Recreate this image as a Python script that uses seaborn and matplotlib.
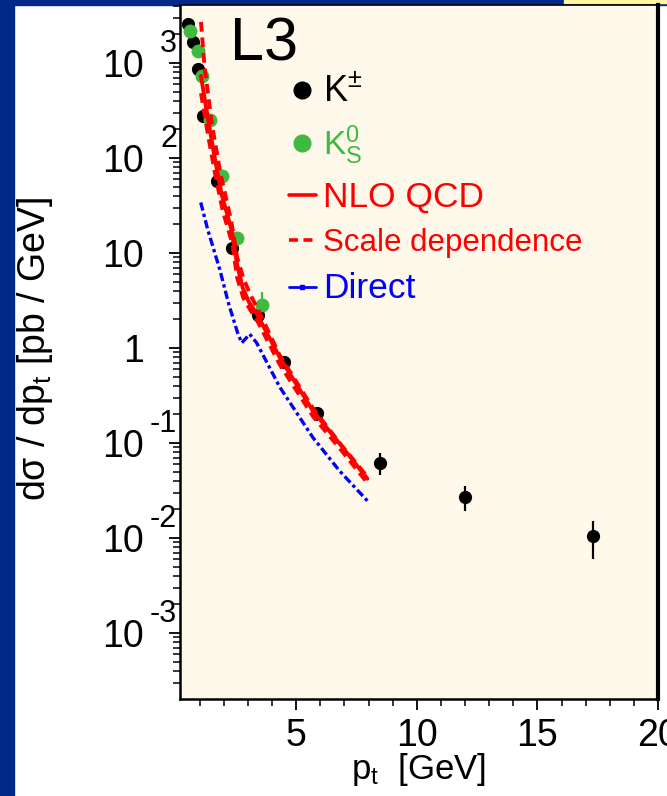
import numpy as np
import pandas as pd
import matplotlib
matplotlib.use("Agg")
import matplotlib.pyplot as plt
import matplotlib.transforms as mtransforms
from matplotlib.lines import Line2D
from matplotlib.patches import Rectangle
import seaborn as sns

# ---------------- data ----------------
kpm_pt = [0.51, 0.71, 0.92, 1.13, 1.71, 2.33, 3.40, 4.48, 5.84, 8.48, 12.0, 17.3]
kpm_y = [2600, 1670, 870, 277, 57, 11.4, 2.2, 0.71, 0.206, 0.062, 0.027, 0.0105]
kpm_err = [300, 150, 90, 30, 6, 1.5, 0.4, 0.11, 0.035, 0.016, 0.008, 0.0045]

k0s_pt = [0.60, 0.92, 1.09, 1.42, 1.91, 2.53, 3.57]
k0s_y = [2190, 1350, 730, 251, 64, 14.5, 2.85]
k0s_err = [110, 70, 40, 13, 3.5, 0.9, 1.0]

nlo_pt = [1.05, 1.34, 1.63, 1.91, 2.33, 2.55, 2.78, 3.05, 3.36, 4.31, 5.68, 6.79, 7.95]
nlo_y = [730, 257, 97, 41, 17, 7.5, 4.3, 3.0, 2.3, 0.80, 0.22, 0.099, 0.042]

scale_up_pt = [1.05, 1.20, 1.50, 1.85, 2.30, 2.55, 2.80, 3.10, 3.40, 4.30, 5.70, 6.80, 7.95]
scale_up_y = [2700, 900, 230, 70, 22, 9.0, 5.5, 3.6, 2.6, 0.85, 0.23, 0.10, 0.044]
scale_lo_pt = [1.05, 1.35, 1.65, 1.95, 2.35, 2.55, 2.80, 3.10, 3.40, 4.30, 5.70, 6.80, 7.95]
scale_lo_y = [480, 170, 65, 28, 12.5, 5.5, 3.4, 2.5, 1.9, 0.68, 0.19, 0.088, 0.038]

direct_pt = [1.04, 1.33, 1.83, 2.20, 2.57, 2.74, 3.07, 3.36, 4.31, 5.68, 6.79, 7.95]
direct_y = [34, 17.6, 6.7, 2.9, 1.44, 1.13, 1.4, 1.13, 0.39, 0.115, 0.051, 0.0246]

ytick_vals = [1e-3, 1e-2, 1e-1, 1, 10, 1e2, 1e3]
ytick_base = ["10", "10", "10", "1", "10", "10", "10"]
ytick_exp = ["-3", "-2", "-1", "", "", "2", "3"]
xtick_vals = [5, 10, 15, 20]

legend_labels = [r"$\mathregular{K^{\pm}}$", r"$\mathregular{K^{0}_{S}}$",
                 "NLO QCD", "Scale dependence", "Direct"]

# ---------------- style ----------------
sns.set_theme(style="ticks")
plt.rcParams["font.family"] = ["Liberation Sans", "DejaVu Sans"]
plt.rcParams["mathtext.fontset"] = "custom"
plt.rcParams["mathtext.rm"] = "Liberation Sans"
plt.rcParams["mathtext.it"] = "Liberation Sans:italic"
plt.rcParams["mathtext.bf"] = "Liberation Sans:bold"

RED = "#FF0000"
BLUE = "#0000FF"
GREEN = "#40B940"
BLACK = "#000000"
CREAM = "#FFF9EC"
STRIP = "#00298A"

fig = plt.figure(figsize=(6.67, 7.96), dpi=100, facecolor="white")
ax = fig.add_axes([180 / 667, 1 - 699 / 796, 478 / 667, 694 / 796])
ax.set_facecolor(CREAM)

# decorative page strips
fig.patches.append(Rectangle((0, 0), 14 / 667, 1, transform=fig.transFigure,
                             color=STRIP, zorder=-10))
fig.patches.append(Rectangle((0, 1 - 5 / 796), 1, 5 / 796, transform=fig.transFigure,
                             color=STRIP, zorder=-10))
fig.patches.append(Rectangle((564 / 667, 1 - 3 / 796), 103 / 667, 3 / 796,
                             transform=fig.transFigure, color="#FFF6A0", zorder=-9))

# ---------------- data marks ----------------
ax.set_yscale("log")
ax.errorbar(kpm_pt, kpm_y, yerr=kpm_err, fmt="o", color=BLACK, ms=8.5,
            elinewidth=1.6, capsize=0, zorder=3)
ax.errorbar(k0s_pt, k0s_y, yerr=k0s_err, fmt="o", color=GREEN, ms=9,
            elinewidth=1.6, capsize=0, zorder=3)

df_nlo = pd.DataFrame({"pt": nlo_pt, "y": nlo_y})
df_up = pd.DataFrame({"pt": scale_up_pt, "y": scale_up_y})
df_lo = pd.DataFrame({"pt": scale_lo_pt, "y": scale_lo_y})
df_dir = pd.DataFrame({"pt": direct_pt, "y": direct_y})

sns.lineplot(data=df_nlo, x="pt", y="y", ax=ax, color=RED, lw=2.8,
             estimator=None, sort=False, zorder=4)
for d in (df_up, df_lo):
    sns.lineplot(data=d, x="pt", y="y", ax=ax, color=RED, lw=2.8,
                 estimator=None, sort=False, zorder=4, dashes=False,
                 linestyle=(0, (2.5, 1.5)))
sns.lineplot(data=df_dir, x="pt", y="y", ax=ax, color=BLUE, lw=2.4,
             estimator=None, sort=False, zorder=4, linestyle=(0, (2.5, 1.0, 1, 1.0)))

# ---------------- axes ----------------
ax.set_xlim(0.18, 20)
ax.set_ylim(10 ** -3.695, 10 ** 3.61)

ax.set_xticks(xtick_vals)
ax.set_xticklabels([str(v) for v in xtick_vals])
ax.xaxis.set_minor_locator(matplotlib.ticker.MultipleLocator(1))
ax.set_yticks(ytick_vals)
ax.set_yticklabels(ytick_base)
ax.yaxis.set_minor_locator(matplotlib.ticker.LogLocator(base=10, subs=np.arange(2, 10), numticks=30))
ax.yaxis.set_minor_formatter(matplotlib.ticker.NullFormatter())

ax.tick_params(axis="both", which="major", direction="out", length=8, width=1.3,
               labelsize=27, colors=BLACK)
ax.tick_params(axis="both", which="minor", direction="out", length=5, width=1.1, colors=BLACK)
ax.tick_params(axis="y", which="major", pad=18)
ax.tick_params(axis="x", which="major", pad=6)

for s in ax.spines.values():
    s.set_color(BLACK)
    s.set_linewidth(1.8)
ax.spines["right"].set_linewidth(3)
ax.spines["top"].set_linewidth(1.2)

# exponent labels ROOT-style
blend = mtransforms.blended_transform_factory(ax.transAxes, ax.transData)
for v, e in zip(ytick_vals, ytick_exp):
    if e:
        tr = mtransforms.offset_copy(blend, fig=fig, x=0, y=14, units="points")
        ax.text(-0.006, v, e, transform=tr, ha="right", va="center",
                fontsize=22, color=BLACK, clip_on=False)

ax.set_xlabel(r"p$_{\mathregular{t}}$  [GeV]", fontsize=25, color=BLACK)
ax.xaxis.set_label_coords(0.5, -0.075)
ax.set_ylabel(r"d$\mathregular{\sigma}$ / dp$_{\mathregular{t}}$ [pb / GeV]",
              fontsize=27, color=BLACK)
ax.yaxis.set_label_coords(-0.262, 0.505)

ax.text(0.105, 0.92, "L3", transform=ax.transAxes, fontsize=44, color=BLACK,
        ha="left", va="baseline")

# ---------------- legend ----------------
handles = [
    Line2D([], [], marker="o", ls="none", color=BLACK, ms=12),
    Line2D([], [], marker="o", ls="none", color=GREEN, ms=12),
    Line2D([], [], color=RED, lw=2.6),
    Line2D([], [], color=RED, lw=2.6, linestyle=(0, (2.5, 1.5))),
    Line2D([], [], color=BLUE, lw=2.0, linestyle="-", marker="s", ms=3),
]
leg = ax.legend(handles, legend_labels, loc="upper left",
                bbox_to_anchor=(0.228, 0.9), frameon=False, fontsize=24,
                handlelength=0.8, handletextpad=0.22, labelspacing=0.42,
                borderpad=0, borderaxespad=0,
                labelcolor=[BLACK, GREEN, RED, RED, BLUE])
sizes = [26, 24, 25.5, 22.5, 25.5]
for t, s in zip(leg.get_texts(), sizes):
    t.set_fontsize(s)

fig.savefig("out.png", dpi=100, facecolor="white")
